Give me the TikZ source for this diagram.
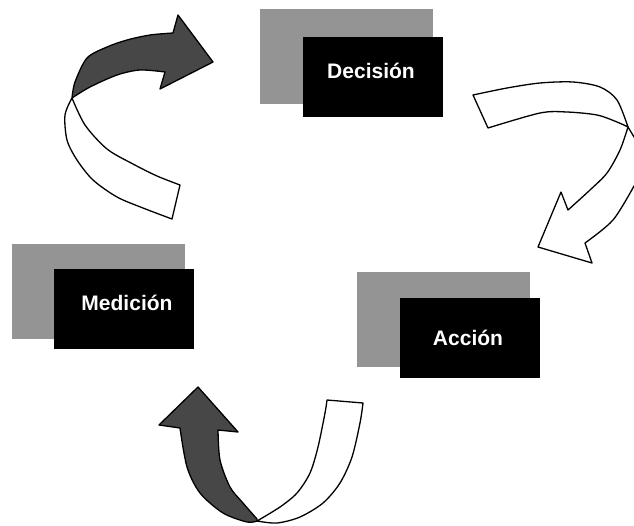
\documentclass[tikz,border=0pt]{standalone}
\usepackage{fontspec}
\setmainfont{Liberation Sans}
\begin{document}
\begin{tikzpicture}[x=1pt,y=-1pt,
  shadebox/.style={fill=black!42, draw=none, minimum width=173pt, minimum height=95pt, inner sep=0pt, anchor=north west},
  blackbox/.style={fill=black, draw=none, minimum width=140pt, minimum height=80pt, inner sep=0pt, anchor=north west},
  boxlabel/.style={text=white, font=\fontsize{21}{25}\selectfont\bfseries, anchor=base, inner sep=0pt},
  ribbon/.style={fill=white, draw=black, line width=1.3pt, line join=round},
  ribbondark/.style={fill=black!72, draw=black, line width=1.3pt, line join=round}]
\useasboundingbox (0,0) rectangle (634,525);
\clip (0,0) rectangle (634,525);

% boxes
\node[shadebox] (gD) at (260,9) {};
\node[blackbox] (D) at (303,37) {};
\node[boxlabel] (tD) at (371,78.3) {Decisión};

\node[shadebox] (gM) at (12,244) {};
\node[blackbox] (M) at (54,269) {};
\node[boxlabel] (tM) at (127,310) {Medición};

\node[shadebox] (gA) at (357,272) {};
\node[blackbox] (A) at (400,298) {};
\node[boxlabel] (tA) at (468,345) {Acción};

% top-left arrow (Medición -> Decisión)
\draw[ribbon] plot[smooth] coordinates {(72,98) (65,115) (67,140) (77,160) (93,180) (117,197) (143,208) (172,219)}
  -- (180,185) -- plot[smooth] coordinates {(180,185) (157,176) (133,164) (107,149) (85,125) (72,98)} -- cycle;
\draw[ribbondark] plot[smooth] coordinates {(72,98) (75,82) (87,58) (107,47) (127,40) (150,35) (173,33)}
  -- (178,15) -- (213,62) -- (160,89) -- plot[smooth] coordinates {(165,72) (140,70) (117,75) (90,87) (72,98)} -- cycle;

% right arrow (Decisión -> Acción)
\draw[ribbon] plot[smooth] coordinates {(473,95) (507,88) (540,83) (573,82) (600,87) (617,100) (628,127)}
  -- plot[smooth] coordinates {(628,127) (617,122) (597,115) (567,112) (540,113) (488,128)} -- cycle;
\draw[ribbon] (628,127) -- (648,160) -- (648,180) -- plot[smooth] coordinates {(634,186) (613,220) (585,243)}
  -- (592,263) -- (538,247) -- (561,192) -- (568,210)
  -- plot[smooth] coordinates {(568,210) (590,190) (607,173) (620,150) (628,127)} -- cycle;

% bottom arrow (Acción -> Medición)
\draw[ribbon] (327,400) -- (363,403) -- plot[smooth] coordinates {(363,403) (360,423) (352,457) (340,483) (323,503) (300,517) (277,523) (257,521)}
  -- plot[smooth] coordinates {(257,521) (280,507) (297,493) (310,473) (318,447) (325,413) (327,400)} -- cycle;
\draw[ribbondark] (180,428) -- (159,425) -- (198,387) -- (238,432) -- (218,430)
  -- plot[smooth] coordinates {(218,430) (220,460) (230,487) (243,503) (257,519)}
  -- plot[smooth] coordinates {(257,521) (247,522) (223,513) (200,493) (187,467) (180,428)} -- cycle;
\end{tikzpicture}
\end{document}
